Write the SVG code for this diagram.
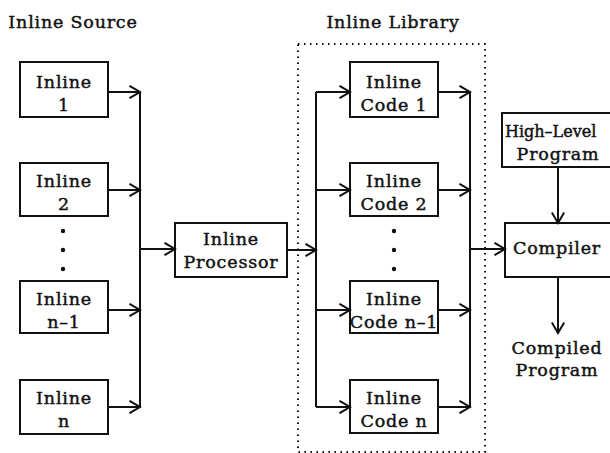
<svg xmlns="http://www.w3.org/2000/svg" width="610" height="453" viewBox="0 0 610 453">
  <style>
    .box { fill: #fff; stroke: #111; stroke-width: 2; }
    .wire { fill: none; stroke: #111; stroke-width: 2; }
    .lbl { font-family: "DejaVu Serif", "Liberation Serif", serif; font-size: 17.5px; letter-spacing: 0.8px; fill: #111; stroke: #111; stroke-width: 0.45; text-anchor: middle; }
    .dot { fill: #111; }
    .frame { fill: none; stroke: #111; stroke-width: 2; stroke-dasharray: 1.5 4.5; }
  </style>
  <defs>
    <marker id="arr" viewBox="0 0 14 14" refX="12.5" refY="7" markerWidth="14" markerHeight="14" markerUnits="userSpaceOnUse" orient="auto">
      <path d="M2,0.8 L12.5,7 L2,13.2" fill="none" stroke="#111" stroke-width="2"/>
    </marker>
  </defs>
  <rect width="610" height="453" fill="#fff"/>

  <!-- section titles -->
  <text class="lbl" x="73" y="28">Inline Source</text>
  <text class="lbl" x="393" y="28">Inline Library</text>

  <!-- library enclosure -->
  <rect class="frame" x="298" y="44" width="187" height="408"/>

  <!-- source nodes -->
  <g id="src1"><rect class="box" x="20" y="62" width="88" height="55"/><text class="lbl" x="64" y="88">Inline</text><text class="lbl" x="64" y="111">1</text></g>
  <g id="src2"><rect class="box" x="20" y="163" width="88" height="53"/><text class="lbl" x="64" y="187">Inline</text><text class="lbl" x="64" y="210">2</text></g>
  <g id="srcDots"><circle class="dot" cx="63" cy="231" r="2.2"/><circle class="dot" cx="63" cy="250" r="2.2"/><circle class="dot" cx="63" cy="269" r="2.2"/></g>
  <g id="srcN1"><rect class="box" x="20" y="281" width="88" height="52"/><text class="lbl" x="64" y="305">Inline</text><text class="lbl" x="64" y="328">n–1</text></g>
  <g id="srcN"><rect class="box" x="20" y="380" width="88" height="54"/><text class="lbl" x="64" y="404">Inline</text><text class="lbl" x="64" y="427">n</text></g>

  <!-- processor -->
  <g id="proc"><rect class="box" x="175" y="223" width="112" height="54"/><text class="lbl" x="231" y="245">Inline</text><text class="lbl" x="231" y="268">Processor</text></g>

  <!-- library nodes -->
  <g id="lib1"><rect class="box" x="350" y="62" width="88" height="55"/><text class="lbl" x="394" y="88">Inline</text><text class="lbl" x="394" y="111">Code 1</text></g>
  <g id="lib2"><rect class="box" x="350" y="163" width="88" height="53"/><text class="lbl" x="394" y="187">Inline</text><text class="lbl" x="394" y="210">Code 2</text></g>
  <g id="libDots"><circle class="dot" cx="394" cy="231" r="2.2"/><circle class="dot" cx="394" cy="250" r="2.2"/><circle class="dot" cx="394" cy="269" r="2.2"/></g>
  <g id="libN1"><rect class="box" x="350" y="281" width="88" height="52"/><text class="lbl" x="394" y="305">Inline</text><text class="lbl" x="394" y="328">Code n–1</text></g>
  <g id="libN"><rect class="box" x="350" y="380" width="88" height="53"/><text class="lbl" x="394" y="404">Inline</text><text class="lbl" x="394" y="427">Code n</text></g>

  <!-- compiler side -->
  <g id="hll"><rect class="box" x="502" y="113" width="120" height="54"/><text class="lbl" x="505" y="137" style="text-anchor:start; font-size:16px; letter-spacing:0">High–Level</text><text class="lbl" x="558" y="160">Program</text></g>
  <g id="compiler"><rect class="box" x="505" y="223" width="120" height="54"/><text class="lbl" x="557" y="254">Compiler</text></g>
  <g id="out"><text class="lbl" x="557" y="354">Compiled</text><text class="lbl" x="557" y="376">Program</text></g>

  <!-- connectors -->
  <g id="connectors">
    <path class="wire" d="M140,92 V407"/>
    <path class="wire" d="M108,92 H140" marker-end="url(#arr)"/>
    <path class="wire" d="M108,190 H140" marker-end="url(#arr)"/>
    <path class="wire" d="M108,310 H140" marker-end="url(#arr)"/>
    <path class="wire" d="M108,407 H140" marker-end="url(#arr)"/>
    <path class="wire" d="M140,249 H175" marker-end="url(#arr)"/>
    <path class="wire" d="M287,250 H316" marker-end="url(#arr)"/>

    <path class="wire" d="M316,92 V407"/>
    <path class="wire" d="M316,92 H350" marker-end="url(#arr)"/>
    <path class="wire" d="M316,190 H350" marker-end="url(#arr)"/>
    <path class="wire" d="M316,310 H350" marker-end="url(#arr)"/>
    <path class="wire" d="M316,407 H350" marker-end="url(#arr)"/>

    <path class="wire" d="M470,92 V407"/>
    <path class="wire" d="M438,92 H470" marker-end="url(#arr)"/>
    <path class="wire" d="M438,190 H470" marker-end="url(#arr)"/>
    <path class="wire" d="M438,310 H470" marker-end="url(#arr)"/>
    <path class="wire" d="M438,407 H470" marker-end="url(#arr)"/>
    <path class="wire" d="M470,249 H505" marker-end="url(#arr)"/>

    <path class="wire" d="M558,167 V223" marker-end="url(#arr)"/>
    <path class="wire" d="M558,277 V333" marker-end="url(#arr)"/>
  </g>
</svg>
